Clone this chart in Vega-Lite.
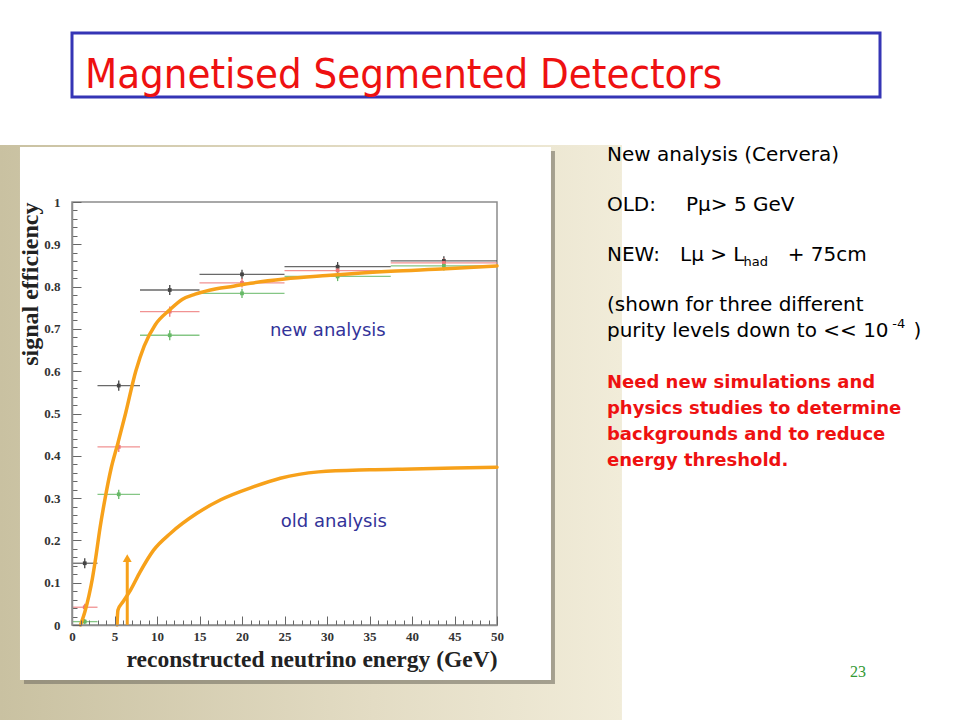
{
  "$schema": "https://vega.github.io/schema/vega-lite/v6.json",
  "width": 425,
  "height": 423,
  "autosize": "none",
  "padding": {"left": 72, "top": 202, "right": 463, "bottom": 95},
  "background": "white",
  "config": {"view": {"stroke": null}},
  "datasets": {
    "bins": [
      {"series": "black", "x": 1.5, "xlo": 0, "xhi": 3, "y": 0.146, "ylo": 0.134, "yhi": 0.158},
      {"series": "black", "x": 5.5, "xlo": 3, "xhi": 8, "y": 0.566, "ylo": 0.554, "yhi": 0.578},
      {"series": "black", "x": 11.5, "xlo": 8, "xhi": 15, "y": 0.792, "ylo": 0.78, "yhi": 0.804},
      {"series": "black", "x": 20, "xlo": 15, "xhi": 25, "y": 0.829, "ylo": 0.818, "yhi": 0.84},
      {"series": "black", "x": 31.25, "xlo": 25, "xhi": 37.5, "y": 0.847, "ylo": 0.836, "yhi": 0.858},
      {"series": "black", "x": 43.75, "xlo": 37.5, "xhi": 50, "y": 0.861, "ylo": 0.85, "yhi": 0.872},
      {"series": "red", "x": 1.5, "xlo": 0, "xhi": 3, "y": 0.042, "ylo": 0.034, "yhi": 0.05},
      {"series": "red", "x": 5.5, "xlo": 3, "xhi": 8, "y": 0.421, "ylo": 0.409, "yhi": 0.433},
      {"series": "red", "x": 11.5, "xlo": 8, "xhi": 15, "y": 0.741, "ylo": 0.729, "yhi": 0.753},
      {"series": "red", "x": 20, "xlo": 15, "xhi": 25, "y": 0.809, "ylo": 0.798, "yhi": 0.82},
      {"series": "red", "x": 31.25, "xlo": 25, "xhi": 37.5, "y": 0.838, "ylo": 0.827, "yhi": 0.849},
      {"series": "red", "x": 43.75, "xlo": 37.5, "xhi": 50, "y": 0.856, "ylo": 0.845, "yhi": 0.867},
      {"series": "green", "x": 1.5, "xlo": 0, "xhi": 3, "y": 0.008, "ylo": 0.002, "yhi": 0.014},
      {"series": "green", "x": 5.5, "xlo": 3, "xhi": 8, "y": 0.309, "ylo": 0.298, "yhi": 0.32},
      {"series": "green", "x": 11.5, "xlo": 8, "xhi": 15, "y": 0.685, "ylo": 0.673, "yhi": 0.697},
      {"series": "green", "x": 20, "xlo": 15, "xhi": 25, "y": 0.784, "ylo": 0.773, "yhi": 0.795},
      {"series": "green", "x": 31.25, "xlo": 25, "xhi": 37.5, "y": 0.824, "ylo": 0.813, "yhi": 0.835},
      {"series": "green", "x": 43.75, "xlo": 37.5, "xhi": 50, "y": 0.849, "ylo": 0.838, "yhi": 0.86}
    ],
    "curves": [
      {"curve": "new", "e": 1.0, "eff": 0.0},
      {"curve": "new", "e": 1.5, "eff": 0.03},
      {"curve": "new", "e": 2.0, "eff": 0.07},
      {"curve": "new", "e": 2.4, "eff": 0.11},
      {"curve": "new", "e": 2.8, "eff": 0.16},
      {"curve": "new", "e": 3.3, "eff": 0.23},
      {"curve": "new", "e": 3.9, "eff": 0.3},
      {"curve": "new", "e": 4.6, "eff": 0.37},
      {"curve": "new", "e": 5.4, "eff": 0.43},
      {"curve": "new", "e": 6.3, "eff": 0.5},
      {"curve": "new", "e": 7.5, "eff": 0.6},
      {"curve": "new", "e": 8.5, "eff": 0.66},
      {"curve": "new", "e": 9.8, "eff": 0.71},
      {"curve": "new", "e": 11.5, "eff": 0.745},
      {"curve": "new", "e": 13, "eff": 0.77},
      {"curve": "new", "e": 14.5, "eff": 0.782},
      {"curve": "new", "e": 17, "eff": 0.795},
      {"curve": "new", "e": 19, "eff": 0.801},
      {"curve": "new", "e": 21, "eff": 0.808},
      {"curve": "new", "e": 25, "eff": 0.818},
      {"curve": "new", "e": 30, "eff": 0.826},
      {"curve": "new", "e": 37.5, "eff": 0.836},
      {"curve": "new", "e": 44, "eff": 0.842},
      {"curve": "new", "e": 50, "eff": 0.849},
      {"curve": "old", "e": 5.3, "eff": 0.0},
      {"curve": "old", "e": 5.4, "eff": 0.035},
      {"curve": "old", "e": 6.0, "eff": 0.055},
      {"curve": "old", "e": 6.9, "eff": 0.083},
      {"curve": "old", "e": 8.0, "eff": 0.125},
      {"curve": "old", "e": 9.6, "eff": 0.177},
      {"curve": "old", "e": 11.6, "eff": 0.217},
      {"curve": "old", "e": 14.7, "eff": 0.264},
      {"curve": "old", "e": 17.5, "eff": 0.296},
      {"curve": "old", "e": 21.4, "eff": 0.327},
      {"curve": "old", "e": 24.5, "eff": 0.347},
      {"curve": "old", "e": 29, "eff": 0.362},
      {"curve": "old", "e": 35, "eff": 0.367},
      {"curve": "old", "e": 40, "eff": 0.369},
      {"curve": "old", "e": 50, "eff": 0.373}
    ],
    "arrow": [{"e": 6.5, "lo": 0, "hi": 0.15, "tip": 0.158}],
    "texts": [
      {"k": "title", "t": "Magnetised Segmented Detectors", "x": 1.53, "y": 1.2695},
      {"k": "plotlabel", "t": "new analysis", "x": 30.1, "y": 0.695},
      {"k": "plotlabel", "t": "old analysis", "x": 30.8, "y": 0.2435},
      {"k": "body", "t": "New analysis (Cervera)", "x": 62.94, "y": 1.111},
      {"k": "body", "t": "OLD:", "x": 62.94, "y": 0.993},
      {"k": "body", "t": "Pμ> 5 GeV", "x": 72.24, "y": 0.993},
      {"k": "body", "t": "NEW:", "x": 62.94, "y": 0.875},
      {"k": "body", "t": "Lμ > L", "x": 71.53, "y": 0.875},
      {"k": "sub", "t": "had", "x": 79.0, "y": 0.857},
      {"k": "body", "t": "+ 75cm", "x": 84.2, "y": 0.875},
      {"k": "body", "t": "(shown for three different", "x": 62.94, "y": 0.7565},
      {"k": "body", "t": "purity levels down to << 10", "x": 62.94, "y": 0.695},
      {"k": "sub", "t": "-4", "x": 96.5, "y": 0.711},
      {"k": "body", "t": ")", "x": 99.0, "y": 0.695},
      {"k": "red", "t": "Need new simulations and", "x": 62.94, "y": 0.572},
      {"k": "red", "t": "physics studies to determine", "x": 62.94, "y": 0.5106},
      {"k": "red", "t": "backgrounds and to reduce", "x": 62.94, "y": 0.449},
      {"k": "red", "t": "energy threshold.", "x": 62.94, "y": 0.388},
      {"k": "page", "t": "23", "x": 92.47, "y": -0.111}
    ]
  },
  "layer": [
    {
      "data": {"values": [{}]},
      "mark": {"type": "rect", "fill": {"gradient": "linear", "x1": 0, "y1": 0, "x2": 1, "y2": 0, "stops": [{"offset": 0, "color": "#c9c1a1"}, {"offset": 0.6, "color": "#e3dcc4"}, {"offset": 1, "color": "#f1ecd9"}]}},
      "encoding": {
        "x": {"datum": -8.47, "type": "quantitative", "scale": {"domain": [0, 50], "nice": false, "zero": false}},
        "x2": {"datum": 64.7},
        "y": {"datum": 1.1348, "type": "quantitative", "scale": {"domain": [0, 1], "nice": false, "zero": false}},
        "y2": {"datum": -0.2246}
      }
    },
    {
      "data": {"values": [{}]},
      "mark": {"type": "rect", "fill": "#7d786a", "opacity": 0.65},
      "encoding": {
        "x": {"datum": -5.65, "type": "quantitative"},
        "x2": {"datum": 56.82},
        "y": {"datum": 1.1206, "type": "quantitative"},
        "y2": {"datum": -0.1395}
      }
    },
    {
      "data": {"values": [{}]},
      "mark": {"type": "rect", "fill": "white"},
      "encoding": {
        "x": {"datum": -6.12, "type": "quantitative"},
        "x2": {"datum": 56.35},
        "y": {"datum": 1.13, "type": "quantitative"},
        "y2": {"datum": -0.13}
      }
    },
    {
      "data": {"values": [{}]},
      "mark": {"type": "rect", "fill": null, "stroke": "#8c8c8c", "strokeWidth": 1.5},
      "encoding": {
        "x": {"datum": 0, "type": "quantitative"},
        "x2": {"datum": 50},
        "y": {"datum": 0, "type": "quantitative"},
        "y2": {"datum": 1}
      }
    },
    {
      "data": {"name": "bins"},
      "mark": {"type": "rule", "strokeWidth": 1.3, "opacity": 0.8},
      "encoding": {
        "x": {
          "field": "xlo", "type": "quantitative",
          "axis": {
            "title": "reconstructed neutrino energy (GeV)",
            "titleAnchor": "end",
            "titleFont": "Liberation Serif", "titleFontSize": 23.5, "titleFontWeight": "bold", "titleColor": "#222222",
            "titlePadding": 0,
            "values": [0,1,2,3,4,5,6,7,8,9,10,11,12,13,14,15,16,17,18,19,20,21,22,23,24,25,26,27,28,29,30,31,32,33,34,35,36,37,38,39,40,41,42,43,44,45,46,47,48,49,50],
            "tickCount": 200,
            "labelExpr": "datum.value % 5 === 0 ? format(datum.value, 'd') : ''",
            "labelOverlap": false, "labelFlush": false, "labelBound": false,
            "labelFont": "Liberation Serif", "labelFontSize": 13, "labelFontWeight": "bold", "labelColor": "#333333",
            "labelPadding": 14,
            "tickSize": {"condition": {"test": "datum.value % 5 === 0", "value": -9}, "value": -5},
            "tickColor": "#666666", "tickWidth": 1,
            "domain": true, "domainColor": "#8c8c8c", "domainWidth": 1.5,
            "grid": false, "zindex": 1
          }
        },
        "x2": {"field": "xhi"},
        "y": {
          "field": "y", "type": "quantitative",
          "axis": {
            "title": "signal efficiency",
            "titleAnchor": "end",
            "titleFont": "Liberation Serif", "titleFontSize": 24, "titleFontWeight": "bold", "titleColor": "#222222",
            "titlePadding": 1,
            "values": [0,0.02,0.04,0.06,0.08,0.1,0.12,0.14,0.16,0.18,0.2,0.22,0.24,0.26,0.28,0.3,0.32,0.34,0.36,0.38,0.4,0.42,0.44,0.46,0.48,0.5,0.52,0.54,0.56,0.58,0.6,0.62,0.64,0.66,0.68,0.7,0.72,0.74,0.76,0.78,0.8,0.82,0.84,0.86,0.88,0.9,0.92,0.94,0.96,0.98,1],
            "tickCount": 200,
            "labelExpr": "abs(datum.value*10 - round(datum.value*10)) < 0.0001 ? format(datum.value, '.1~f') : ''",
            "labelOverlap": false, "labelFlush": false, "labelBound": false,
            "labelFont": "Liberation Serif", "labelFontSize": 13, "labelFontWeight": "bold", "labelColor": "#333333",
            "labelPadding": 21,
            "tickSize": {"condition": {"test": "abs(datum.value*10 - round(datum.value*10)) < 0.0001", "value": -9}, "value": -5},
            "tickColor": "#666666", "tickWidth": 1,
            "domain": true, "domainColor": "#8c8c8c", "domainWidth": 1.5,
            "grid": false, "zindex": 1
          }
        },
        "color": {"field": "series", "type": "nominal", "scale": {"domain": ["black", "red", "green"], "range": ["#444444", "#ee7777", "#66b866"]}, "legend": null}
      }
    },
    {
      "data": {"name": "bins"},
      "mark": {"type": "rule", "strokeWidth": 1.3},
      "encoding": {
        "x": {"field": "x", "type": "quantitative"},
        "y": {"field": "ylo", "type": "quantitative"},
        "y2": {"field": "yhi"},
        "color": {"field": "series", "type": "nominal", "legend": null}
      }
    },
    {
      "data": {"name": "bins"},
      "mark": {"type": "point", "shape": "square", "filled": true, "size": 14, "opacity": 1},
      "encoding": {
        "x": {"field": "x", "type": "quantitative"},
        "y": {"field": "y", "type": "quantitative"},
        "color": {"field": "series", "type": "nominal", "legend": null}
      }
    },
    {
      "data": {"name": "curves"},
      "mark": {"type": "line", "color": "#f7a11a", "strokeWidth": 3.5, "interpolate": "monotone", "strokeCap": "round"},
      "encoding": {
        "x": {"field": "e", "type": "quantitative"},
        "y": {"field": "eff", "type": "quantitative"},
        "detail": {"field": "curve"}
      }
    },
    {
      "data": {"name": "arrow"},
      "mark": {"type": "rule", "color": "#f7a11a", "strokeWidth": 3},
      "encoding": {
        "x": {"field": "e", "type": "quantitative"},
        "y": {"field": "lo", "type": "quantitative"},
        "y2": {"field": "hi"}
      }
    },
    {
      "data": {"name": "arrow"},
      "mark": {"type": "point", "shape": "triangle-up", "filled": true, "size": 80, "color": "#f7a11a", "opacity": 1},
      "encoding": {
        "x": {"field": "e", "type": "quantitative"},
        "y": {"field": "tip", "type": "quantitative"}
      }
    },
    {
      "data": {"name": "texts"},
      "transform": [{"filter": "datum.k === 'plotlabel'"}],
      "mark": {"type": "text", "font": "DejaVu Sans", "fontSize": 18, "color": "#333399", "align": "center", "baseline": "middle"},
      "encoding": {
        "x": {"field": "x", "type": "quantitative"},
        "y": {"field": "y", "type": "quantitative"},
        "text": {"field": "t"}
      }
    },
    {
      "data": {"values": [{}]},
      "mark": {"type": "rect", "fill": "white", "stroke": "#3535b5", "strokeWidth": 3},
      "encoding": {
        "x": {"datum": 0, "type": "quantitative"},
        "x2": {"datum": 95.06},
        "y": {"datum": 1.3995, "type": "quantitative"},
        "y2": {"datum": 1.2482}
      }
    },
    {
      "data": {"name": "texts"},
      "transform": [{"filter": "datum.k === 'title'"}],
      "mark": {"type": "text", "font": "DejaVu Sans Condensed, Liberation Sans Narrow, sans-serif", "fontSize": 41.5, "color": "#ee1111", "align": "left", "baseline": "alphabetic"},
      "encoding": {
        "x": {"field": "x", "type": "quantitative"},
        "y": {"field": "y", "type": "quantitative"},
        "text": {"field": "t"}
      }
    },
    {
      "data": {"name": "texts"},
      "transform": [{"filter": "datum.k === 'body'"}],
      "mark": {"type": "text", "font": "DejaVu Sans", "fontSize": 20, "color": "#000000", "align": "left", "baseline": "middle"},
      "encoding": {
        "x": {"field": "x", "type": "quantitative"},
        "y": {"field": "y", "type": "quantitative"},
        "text": {"field": "t"}
      }
    },
    {
      "data": {"name": "texts"},
      "transform": [{"filter": "datum.k === 'sub'"}],
      "mark": {"type": "text", "font": "DejaVu Sans", "fontSize": 13, "color": "#000000", "align": "left", "baseline": "middle"},
      "encoding": {
        "x": {"field": "x", "type": "quantitative"},
        "y": {"field": "y", "type": "quantitative"},
        "text": {"field": "t"}
      }
    },
    {
      "data": {"name": "texts"},
      "transform": [{"filter": "datum.k === 'red'"}],
      "mark": {"type": "text", "font": "DejaVu Sans", "fontSize": 18, "fontWeight": "bold", "color": "#ee1111", "align": "left", "baseline": "middle"},
      "encoding": {
        "x": {"field": "x", "type": "quantitative"},
        "y": {"field": "y", "type": "quantitative"},
        "text": {"field": "t"}
      }
    },
    {
      "data": {"name": "texts"},
      "transform": [{"filter": "datum.k === 'page'"}],
      "mark": {"type": "text", "font": "Liberation Serif", "fontSize": 16, "color": "#339933", "align": "center", "baseline": "middle"},
      "encoding": {
        "x": {"field": "x", "type": "quantitative"},
        "y": {"field": "y", "type": "quantitative"},
        "text": {"field": "t"}
      }
    }
  ]
}
